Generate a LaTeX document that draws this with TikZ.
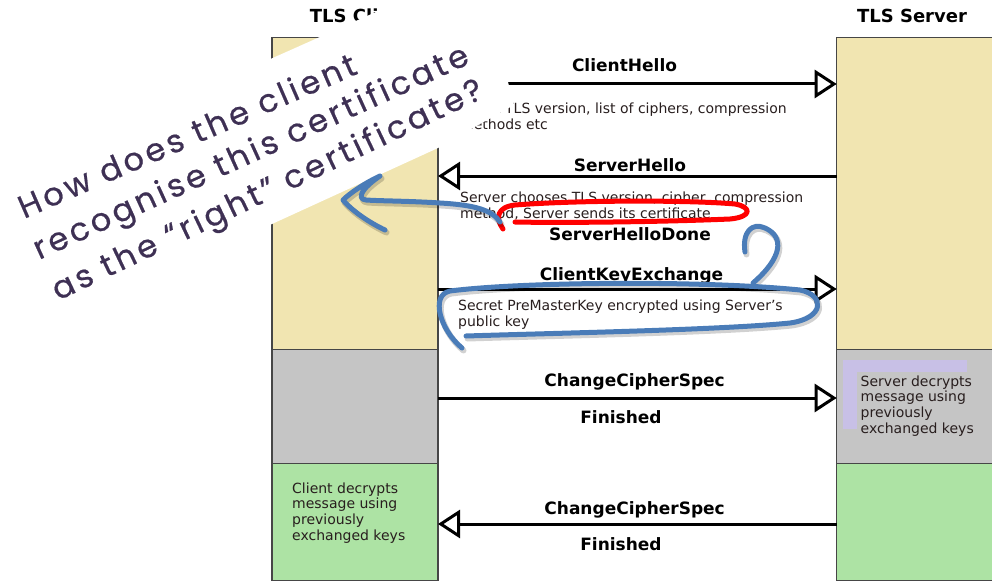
\documentclass[tikz,border=0pt]{standalone}
\usepackage{fontspec}
\setmainfont{DejaVu Sans}
\newfontfamily\handfont{Poppins}[LetterSpace=11,FakeBold=0.6]
\usetikzlibrary{arrows.meta}

\definecolor{beige}{RGB}{241,229,177}
\definecolor{boxgray}{RGB}{197,197,197}
\definecolor{boxgreen}{RGB}{173,227,164}
\definecolor{lavender}{RGB}{200,192,230}
\definecolor{inkblue}{RGB}{74,124,184}
\definecolor{inkred}{RGB}{255,0,0}
\definecolor{handink}{RGB}{62,48,84}
\definecolor{bodytext}{RGB}{40,30,30}
\definecolor{edge}{RGB}{70,70,70}

\begin{document}
\begin{tikzpicture}[x=1pt,y=-1pt,
  lane/.style={draw=edge, line width=1.2pt, anchor=north west, inner sep=0pt, outer sep=0pt},
  title/.style={font=\fontsize{18}{20}\selectfont\bfseries, anchor=base, inner sep=0pt},
  msglabel/.style={font=\fontsize{17}{19}\selectfont\bfseries, anchor=base, inner sep=0pt},
  msg/.style={line width=3pt, -{Triangle[length=22pt,width=28pt,fill=white,sharp]}},
  desc/.style={font=\fontsize{14}{16}\selectfont, text=bodytext, anchor=north west, align=left, inner sep=0pt},
  boxtext/.style={font=\fontsize{14}{15.6}\selectfont, text=bodytext, anchor=north west, align=left},
  hand/.style={font=\handfont\fontsize{32}{40}\selectfont, text=handink, anchor=base west, inner sep=0pt},
  redink/.style={draw=inkred, line width=5pt, line cap=round, line join=round},
  blueshadow/.style={draw=black, opacity=0.18, line width=6pt, line cap=round, line join=round, shift={(1.5,2.5)}},
  blueink/.style={draw=inkblue, line width=5pt, line cap=round, line join=round},
]
\useasboundingbox (0,0) rectangle (992,583);
\clip (0,0) rectangle (992,583);

% client and server lanes
\node[lane, fill=beige,    minimum width=166pt, minimum height=312pt]   (cb1) at (272,37.5)  {};
\node[lane, fill=boxgray,  minimum width=166pt, minimum height=113.8pt] (cb2) at (272,349.5) {};
\node[lane, fill=boxgreen, minimum width=166pt, minimum height=117.2pt] (cb3) at (272,463.3) {};
\node[lane, fill=beige,    minimum width=180pt, minimum height=312pt]   (sb1) at (836.7,37.5)  {};
\node[lane, fill=boxgray,  minimum width=180pt, minimum height=113.8pt] (sb2) at (836.7,349.5) {};
\node[lane, fill=boxgreen, minimum width=180pt, minimum height=117.2pt] (sb3) at (836.7,463.3) {};

\node[title] (tclient) at (361,22.5) {TLS Client};
\node[title] (tserver) at (912,23) {TLS Server};

% message rows
\coordinate (row1) at (0,84);
\coordinate (row2) at (0,176);
\coordinate (row3) at (0,289);
\coordinate (row4) at (0,398);
\coordinate (row5) at (0,524);

\draw[msg] (cb1.east |- row1) -- (sb1.west |- row1);
\draw[msg] (sb1.west |- row2) -- (cb1.east |- row2);
\draw[msg] (cb1.east |- row3) -- (sb1.west |- row3);
\draw[msg] (cb2.east |- row4) -- (sb2.west |- row4);
\draw[msg] (sb3.west |- row5) -- (cb3.east |- row5);

\node[msglabel] (lch)  at (624.5,71.5) {ClientHello};
\node[msglabel] (lsh)  at (630,171.7)  {ServerHello};
\node[msglabel] (lshd) at (630,240)    {ServerHelloDone};
\node[msglabel] (lcke) at (631.5,280)  {ClientKeyExchange};
\node[msglabel] (lccs) at (634.6,386.7) {ChangeCipherSpec};
\node[msglabel] (lfin) at (621,423)    {Finished};
\node[msglabel] (lccs2) at (634.6,514) {ChangeCipherSpec};
\node[msglabel] (lfin2) at (621,550.7) {Finished};

\node[desc] (dch)  at (460,102.7) {Client TLS version, list of ciphers, compression\\methods etc};
\node[desc] (dsh)  at (460,191.4) {Server chooses TLS version, cipher, compression\\method, Server sends its certificate};
\node[desc] (dcke) at (458,300.1) {Secret PreMasterKey encrypted using Server's\\public key};

% notes inside the lanes
\fill[lavender] (842.7,360) rectangle (966.7,429);
\node[boxtext, fill=boxgray, inner sep=3.5pt] (srvnote) at (857,372) {Server decrypts\\message using\\previously\\exchanged keys};
\node[boxtext, inner sep=0pt] (clinote) at (292,482.4) {Client decrypts\\message using\\previously\\exchanged keys};

% tilted question banner
\fill[white] (-40,196) -- (272,58.3) -- (420,-7.6) -- (475,-10) -- (508,82) -- (514,105)
  -- (480,124) -- (438,148) -- (272,224) -- (-40,367) -- cycle;
\node[hand, rotate=23.5] (q1) at (24,219) {How does the client};
\node[hand, rotate=24.5] (q2) at (39,260) {recognise this certificate};
\node[hand, rotate=25.5] (q3) at (58,301) {as the “right” certificate?};

% red marker loop around the certificate phrase
\draw[redink] (503,229) .. controls (495,218) and (497,207) .. (515,205)
  .. controls (580,200) and (690,200) .. (735,204)
  .. controls (752,207) and (752,217) .. (730,219)
  .. controls (660,222) and (560,223) .. (515,222);

% blue pen strokes
\foreach \pen in {blueshadow,blueink} {
  \draw[\pen] (500,222) .. controls (492,210) and (475,205) .. (440,203)
    .. controls (410,201) and (380,201) .. (366,200)
    .. controls (356,199) and (362,188) .. (380,176)
    .. controls (365,183) and (350,193) .. (343,200)
    .. controls (352,211) and (370,223) .. (385,230);
  \draw[\pen] (745,252) .. controls (742,232) and (752,222) .. (765,228)
    .. controls (785,237) and (782,258) .. (753,283);
  \draw[\pen] (466,336) .. controls (560,333) and (720,330) .. (790,323)
    .. controls (825,318) and (825,295) .. (800,290)
    .. controls (700,280) and (520,282) .. (450,291)
    .. controls (430,295) and (440,330) .. (462,348);
}
\end{tikzpicture}
\end{document}
